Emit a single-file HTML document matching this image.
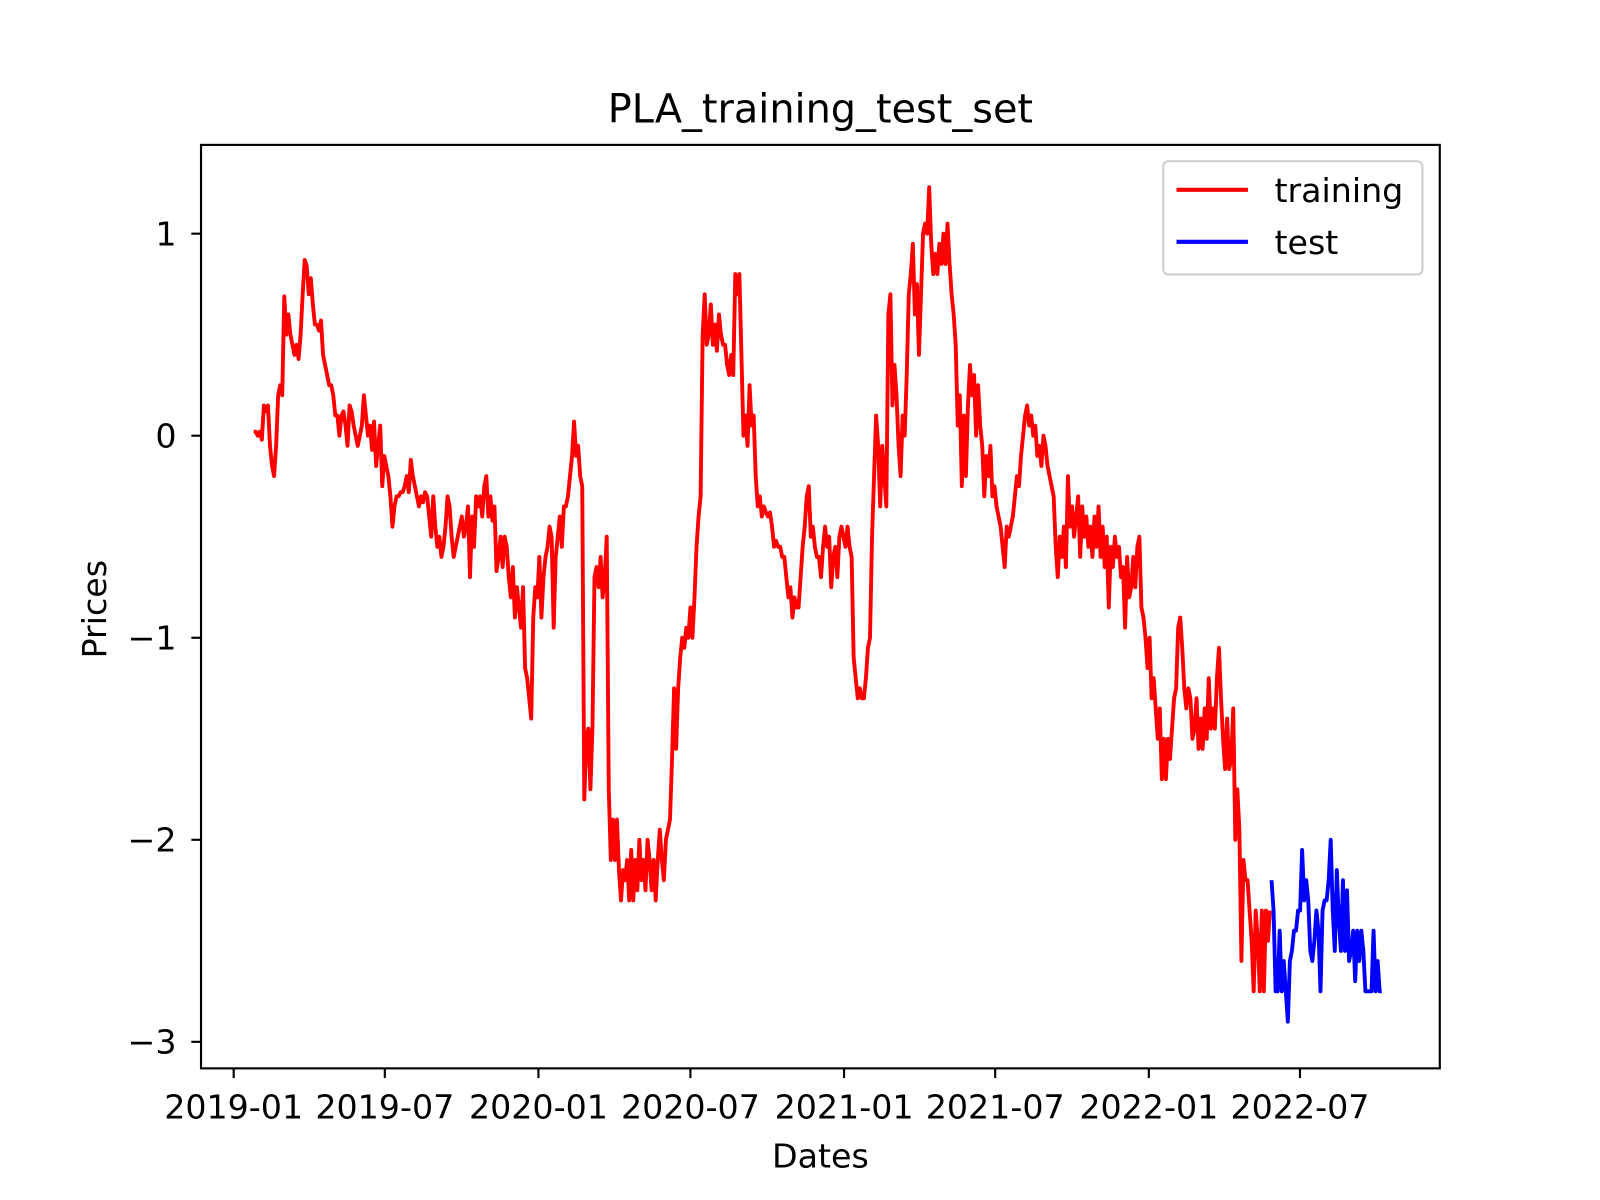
<!DOCTYPE html>
<html><head><meta charset="utf-8"><title>PLA_training_test_set</title>
<style>
html,body{margin:0;padding:0;background:#fff;}
svg{display:block;font-family:"DejaVu Sans","Liberation Sans",sans-serif;}
</style></head>
<body>
<svg id="chart" width="1600" height="1200" viewBox="0 0 1600 1200" xmlns="http://www.w3.org/2000/svg">
<rect width="1600" height="1200" fill="#fff"/>
<g transform="scale(1.0204)">
<text x="804" y="120" font-size="39" text-anchor="middle">PLA_training_test_set</text>
<g id="plot"></g>
<rect x="197" y="142" width="1214" height="905" fill="none" stroke="#000" stroke-width="2.1"/>
<g id="xticks"></g>
<g id="yticks"></g>
<text x="804" y="1144" font-size="32.6" text-anchor="middle">Dates</text>
<text x="104" y="597" font-size="32.6" text-anchor="middle" transform="rotate(-90 104 597)">Prices</text>
<g>
<rect x="1140" y="158" width="254" height="111" rx="5" fill="#fff" fill-opacity="0.8" stroke="#ccc" stroke-width="2"/>
<g>
<line x1="1153" y1="186" x2="1223" y2="186" stroke="#ff0000" stroke-width="4"/>
<text x="1249" y="198" font-size="32.6">training</text></g>
<g>
<line x1="1153" y1="237" x2="1223" y2="237" stroke="#0000ff" stroke-width="4"/>
<text x="1249" y="249" font-size="32.6">test</text></g>
</g>
</g>
</svg>
<script>
const trainStart = '2019-01-25';
const testStart = '2022-05-28';
const stepDays = 2.444;
const xTickLabels = ['2019-01','2019-07','2020-01','2020-07','2021-01','2021-07','2022-01','2022-07'];
const yTickValues = [1,0,-1,-2,-3];
const trainValues = [.02,.02,0,.02,-.02,.15,.12,.15,-.05,-.15,-.2,-.05,.2,.25,.2,.69,.5,.6,.5,.45,.4,.45,.38,.5,.7,.87,.84,.7,.78,.65,.55,.55,.52,.57,.4,.35,.3,.25,.25,.2,.1,
.1,0,.1,.12,.05,-.05,.15,.12,.05,0,-.05,0,.05,.2,.1,0,.05,-.07,.07,-.15,-.05,
.05,-.25,-.1,-.15,-.2,-.3,-.45,-.35,-.3,-.3,-.28,-.28,-.25,-.2,-.28,-.12,-.2,-.25,-.3,-.35,-.3,-.33,-.28,-.3,-.4,-.5,-.3,-.45,-.55,-.5,-.6,-.55,-.45,-.3,-.35,-.5,-.6,-.55,-.5,-.45,-.4,-.5,-.45,-.35,-.7,-.4,-.55,-.3,-.35,-.3,-.4,-.25,-.2,-.4,-.3,-.42,-.35,-.67,-.6,-.5,-.65,-.5,-.55,-.7,-.8,-.65,-.9,-.75,-.85,-.95,-.75,-1.15,-1.2,-1.3,-1.4,-.9,-.75,-.8,-.6,-.9,-.7,-.6,-.55,-.45,-.5,-.95,-.6,-.5,-.4,-.55,-.35,-.35,-.3,-.2,-.1,.07,-.1,-.05,-.2,-.25,
-1.8,-1.5,-1.45,-1.75,-1.45,-.7,-.65,-.75,-.6,-.8,-.7,-.5,-1.75,-2.1,-1.9,-2.1,-1.9,-2.15,-2.3,-2.15,-2.2,-2.1,-2.3,-2.05,-2.3,-2.1,-2.25,-2.0,-2.2,-2.1,-2.25,-2.0,-2.1,-2.25,-2.1,-2.3,-2.1,-1.95,-2.1,-2.2,-2.0,-1.95,-1.9,-1.6,-1.25,-1.55,-1.25,-1.1,-1.0,-1.05,-.95,-1.0,-.85,-1.0,-.8,-.55,-.4,-.3,.5,.7,.45,.5,.65,.45,.55,.42,.6,.5,.45,.45,.35,.3,.4,.3,.8,.7,.8,.4,0,.1,-.05,.25,.05,.1,-.2,-.35,-.3,-.4,-.35,-.38,-.4,-.38,-.45,-.55,-.52,-.55,-.55,-.6,-.6,-.7,-.8,-.75,-.9,-.8,-.85,-.85,-.7,-.55,-.45,-.3,-.25,-.5,-.45,-.55,-.6,-.6,-.7,-.55,-.45,-.55,-.5,-.75,-.6,-.55,-.7,-.5,-.45,-.5,-.55,-.45,-.55,-.6,-1.1,-1.2,-1.3,-1.25,-1.3,-1.3,-1.2,-1.05,-1.0,-.5,-.2,.1,-.05,-.35,-.05,-.2,-.35,.6,.7,.15,.35,.2,-.05,-.2,.1,0,.3,.7,.8,.95,.6,.75,.4,.7,1.0,1.05,1.0,1.23,.95,.8,.9,.8,.95,.85,1.0,.85,1.05,.85,.7,.6,.45,.05,.2,-.25,.1,-.2,.15,.35,.2,.3,0,.25,.05,-.05,-.3,-.1,-.2,-.05,-.3,-.25,-.35,-.4,-.45,-.55,-.65,-.45,-.5,-.45,-.4,-.3,-.2,-.25,-.1,0,.1,.15,.05,.1,0,.05,-.1,-.05,-.15,0,-.05,-.15,-.2,-.25,-.3,-.55,-.7,-.5,-.6,-.45,-.65,-.2,-.45,-.35,-.5,-.4,-.3,-.6,-.35,-.5,-.4,-.55,-.45,-.6,-.4,-.55,-.35,-.6,-.45,-.65,-.5,-.85,-.55,-.65,-.5,-.6,-.55,-.7,-.65,-.95,-.6,-.8,-.75,-.6,-.75,-.55,-.5,-.85,-.9,-1.0,-1.15,-1.0,-1.3,-1.2,-1.35,-1.5,-1.35,-1.7,-1.5,-1.7,-1.5,-1.6,-1.45,-1.3,-1.25,-.95,-.9,-1.05,-1.25,-1.35,-1.25,-1.3,-1.5,-1.45,-1.3,-1.55,-1.4,-1.55,-1.35,-1.5,-1.2,-1.45,-1.35,-1.45,-1.2,-1.05,-1.3,-1.5,-1.65,-1.4,-1.65,-1.6,-1.35,-2.0,-1.75,-1.95,-2.6,-2.1,-2.2,-2.2,-2.35,-2.5,-2.75,-2.35,-2.5,-2.75,-2.35,-2.75,-2.35,-2.5,-2.35];
const testValues = [-2.2,-2.35,-2.75,-2.75,-2.45,-2.75,-2.6,-2.75,-2.9,-2.6,-2.55,-2.45,-2.45,-2.35,-2.35,-2.05,-2.3,-2.2,-2.3,-2.55,-2.6,-2.5,-2.35,-2.45,-2.75,-2.35,-2.3,-2.3,-2.2,-2.0,-2.35,-2.55,-2.15,-2.4,-2.55,-2.2,-2.55,-2.25,-2.6,-2.55,-2.45,-2.7,-2.45,-2.6,-2.45,-2.55,-2.75,-2.75,-2.75,-2.75,-2.45,-2.75,-2.6,-2.75,-2.75];

const NS='http://www.w3.org/2000/svg';
const epoch=Date.UTC(2019,0,1);
const DAY=86400000;
function dayOf(s){const p=s.split('-').map(Number);return (Date.UTC(p[0],p[1]-1,p[2]||1)-epoch)/DAY;}
function xScale(day){return 229+day*0.8183;}
function yScale(v){return 427-198*v;}

function line(values,start,color,name){
  const d0=dayOf(start);
  const pts=values.map((v,i)=>xScale(d0+i*stepDays).toFixed(1)+','+yScale(v).toFixed(1)).join(' ');
  const pl=document.createElementNS(NS,'polyline');
  pl.setAttribute('points',pts);
  pl.setAttribute('fill','none');
  pl.setAttribute('stroke',color);
  pl.setAttribute('stroke-width','3.8');
  pl.setAttribute('stroke-linejoin','round');
  
  
  document.getElementById('plot').appendChild(pl);
}
line(trainValues,trainStart,'#ff0000','training-line');
line(testValues,testStart,'#0000ff','test-line');

const xg=document.getElementById('xticks');
xTickLabels.forEach(lbl=>{
  const x=xScale(dayOf(lbl));
  const t=document.createElementNS(NS,'line');
  t.setAttribute('x1',x);t.setAttribute('x2',x);t.setAttribute('y1',1047);t.setAttribute('y2',1056.5);
  t.setAttribute('stroke','#000');t.setAttribute('stroke-width','2.1');
  
  
  xg.appendChild(t);
  const tx=document.createElementNS(NS,'text');
  tx.setAttribute('x',x);tx.setAttribute('y',1096);tx.setAttribute('font-size','32.6');tx.setAttribute('text-anchor','middle');
  tx.textContent=lbl;
  
  
  xg.appendChild(tx);
});
const yg=document.getElementById('yticks');
yTickValues.forEach(v=>{
  const y=yScale(v);
  const t=document.createElementNS(NS,'line');
  t.setAttribute('x1',187.5);t.setAttribute('x2',197);t.setAttribute('y1',y);t.setAttribute('y2',y);
  t.setAttribute('stroke','#000');t.setAttribute('stroke-width','2.1');
  
  
  yg.appendChild(t);
  const tx=document.createElementNS(NS,'text');
  tx.setAttribute('x',173);tx.setAttribute('y',y+11.5);tx.setAttribute('font-size','32.6');tx.setAttribute('text-anchor','end');
  tx.textContent=v<0?'\u2212'+Math.abs(v):String(v);
  
  
  yg.appendChild(tx);
});
</script>
</body></html>
